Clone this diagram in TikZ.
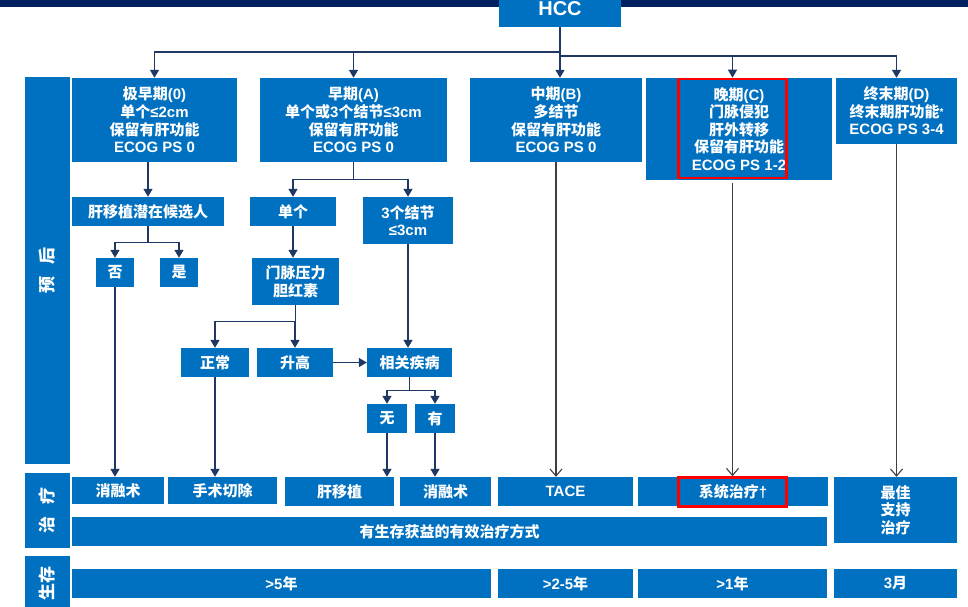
\documentclass[tikz,border=0pt]{standalone}
\usepackage{fontspec}
\setmainfont{Liberation Sans}
\newfontfamily\zhf{Noto Sans CJK SC}
\newcommand\zh[1]{{\zhf #1}}
\usetikzlibrary{arrows.meta}
\definecolor{boxblue}{RGB}{0,112,192}
\definecolor{navyband}{RGB}{0,32,96}
\definecolor{linenavy}{RGB}{31,56,100}
\definecolor{thinline}{RGB}{64,64,64}
\definecolor{hired}{RGB}{255,0,0}
\tikzset{
 box/.style={fill=boxblue, draw=none, text=white, font=\bfseries\fontsize{15}{17.6}\selectfont, align=center, inner sep=0pt},
 sidebox/.style={box, font=\bfseries\fontsize{17}{20}\selectfont, rotate=90},
 ln/.style={draw=linenavy, line width=1.4pt, -{Triangle[length=8pt,width=9pt]}},
 thinar/.style={draw=thinline, line width=1.1pt, -{Straight Barb[length=7pt,width=12pt,line width=1.1pt]}},
 hilite/.style={draw=hired, line width=2.6pt, fill=none, inner sep=0pt},
}
\newcommand\mybox[6]{\node[box, minimum width={#4-#2}, minimum height={#5-#3}] (#1) at ({(#2+#4)/2},{(#3+#5)/2}) {#6};}
\begin{document}
\begin{tikzpicture}[x=1pt,y=-1pt]
\useasboundingbox (0,0) rectangle (968,607);
\fill[white] (0,0) rectangle (968,607);
\fill[navyband] (0,0) rectangle (968,7);
\node[box, font=\bfseries\fontsize{20}{24}\selectfont, minimum width=122, minimum height=37] (HCC) at (560,8.5) {HCC};
% side labels
\node[sidebox, minimum width=387, minimum height=45] (lab1) at (47.5,270.5) {\zh{预\hspace{12pt}后}};
\node[sidebox, minimum width=75, minimum height=45] (lab2) at (47.5,510.5) {\zh{治\hspace{12pt}疗}};
\node[sidebox, minimum width=54, minimum height=45] (lab3) at (47.5,583) {\zh{生存}};
% stages
\mybox{s0}{72}{78}{237}{162}{\zh{极早期}(0)\\\zh{单个}≤2cm\\\zh{保留有肝功能}\\ECOG PS 0}
\mybox{sA}{260}{78}{447}{162}{\zh{早期}(A)\\\zh{单个或}3\zh{个结节}≤3cm\\\zh{保留有肝功能}\\ECOG PS 0}
\mybox{sB}{470}{78}{642}{162}{\zh{中期}(B)\\\zh{多结节}\\\zh{保留有肝功能}\\ECOG PS 0}
\mybox{sC}{646}{78}{832}{180}{\zh{晚期}(C)\\\zh{门脉侵犯}\\\zh{肝外转移}\\\zh{保留有肝功能}\\ECOG PS 1-2}
\mybox{sD}{836}{78}{957}{144}{\zh{终末期}(D)\\\zh{终末期肝功能}\raisebox{2pt}{\fontsize{10}{10}\selectfont *}\\ECOG PS 3-4}
% decision boxes
\mybox{cand}{72}{197}{224}{226}{\zh{肝移植潜在候选人}}
\mybox{single}{250}{197}{336}{226}{\zh{单个}}
\mybox{three}{363}{197}{453}{244}{3\zh{个结节}\\≤3cm}
\mybox{no}{96}{258}{134}{287}{\zh{否}}
\mybox{yes}{160}{258}{198}{287}{\zh{是}}
\mybox{portal}{252}{258}{339}{305}{\zh{门脉压力}\\\zh{胆红素}}
\mybox{normal}{181}{348}{249}{377}{\zh{正常}}
\mybox{high}{257}{348}{333}{377}{\zh{升高}}
\mybox{rel}{367}{348}{452}{377}{\zh{相关疾病}}
\mybox{wu}{367}{404}{407}{433}{\zh{无}}
\mybox{you}{415}{404}{455}{433}{\zh{有}}
% treatments
\mybox{abl1}{72}{477}{164}{504}{\zh{消融术}}
\mybox{surg}{168}{477}{277}{504}{\zh{手术切除}}
\mybox{trans}{285}{477}{394}{506}{\zh{肝移植}}
\mybox{abl2}{400}{477}{491}{506}{\zh{消融术}}
\mybox{tace}{498}{477}{633}{506}{TACE}
\mybox{sys}{638}{477}{828}{506}{\zh{系统治疗}†}
\mybox{bsc}{834}{477}{957}{543}{\zh{最佳}\\\zh{支持}\\\zh{治疗}}
\mybox{eff}{72}{517}{827}{546}{\zh{有生存获益的有效治疗方式}}
% survival
\mybox{sv5}{72}{569}{491}{598}{>5\zh{年}}
\mybox{sv25}{498}{569}{633}{598}{>2-5\zh{年}}
\mybox{sv1}{638}{569}{827}{598}{>1\zh{年}}
\mybox{sv3}{834}{569}{957}{598}{3\zh{月}}
% highlights
\node[hilite, minimum width=108, minimum height=99] (redC) at (732.5,128.5) {};
\node[hilite, minimum width=108, minimum height=29] (redT) at (732.5,492) {};
% top connectors
\coordinate (jL) at (560,52);
\coordinate (jR) at (560,56);
\draw[ln] (HCC.south) -- (jL) -| (s0.north);
\draw[ln] (jL) -| (sA.north);
\draw[ln] (HCC.south) -- (HCC.south |- sB.north);
\draw[ln] (jR) -| (redC.north);
\draw[ln] (jR) -| (sD.north);
% left tree
\draw[ln] (s0.south -| cand.north) -- (cand.north);
\draw[ln] (cand.south) -- ++(0,16) -| (no.north);
\draw[ln] (cand.south) -- ++(0,16) -| (yes.north);
\draw[ln] (sA.south) -- ++(0,17) -| (single.north);
\draw[ln] (sA.south) -- ++(0,17) -| (three.north);
\draw[ln] (single.south) -- (single.south |- portal.north);
\draw[ln] (portal.south) -- ++(0,16) -| (normal.north);
\draw[ln] (portal.south) -- ++(0,16) -| (high.north);
\draw[ln] (three.south) -- (three.south |- rel.north);
\draw[ln] (high.east) -- (rel.west);
\draw[ln] (rel.south) -- ++(0,13) -| (wu.north);
\draw[ln] (rel.south) -- ++(0,13) -| (you.north);
\draw[ln] (no.south) -- (no.south |- abl1.north);
\draw[ln] (normal.south) -- (normal.south |- surg.north);
\draw[ln] (wu.south) -- (wu.south |- trans.north);
\draw[ln] (you.south) -- (you.south |- abl2.north);
% right arrows
\draw[thinar] (sB.south) -- (sB.south |- tace.north);
\draw[thinar, shorten <=4pt] (redC.south) -- (redT.north);
\draw[thinar] (sD.south) -- (sD.south |- bsc.north);
\end{tikzpicture}
\end{document}
